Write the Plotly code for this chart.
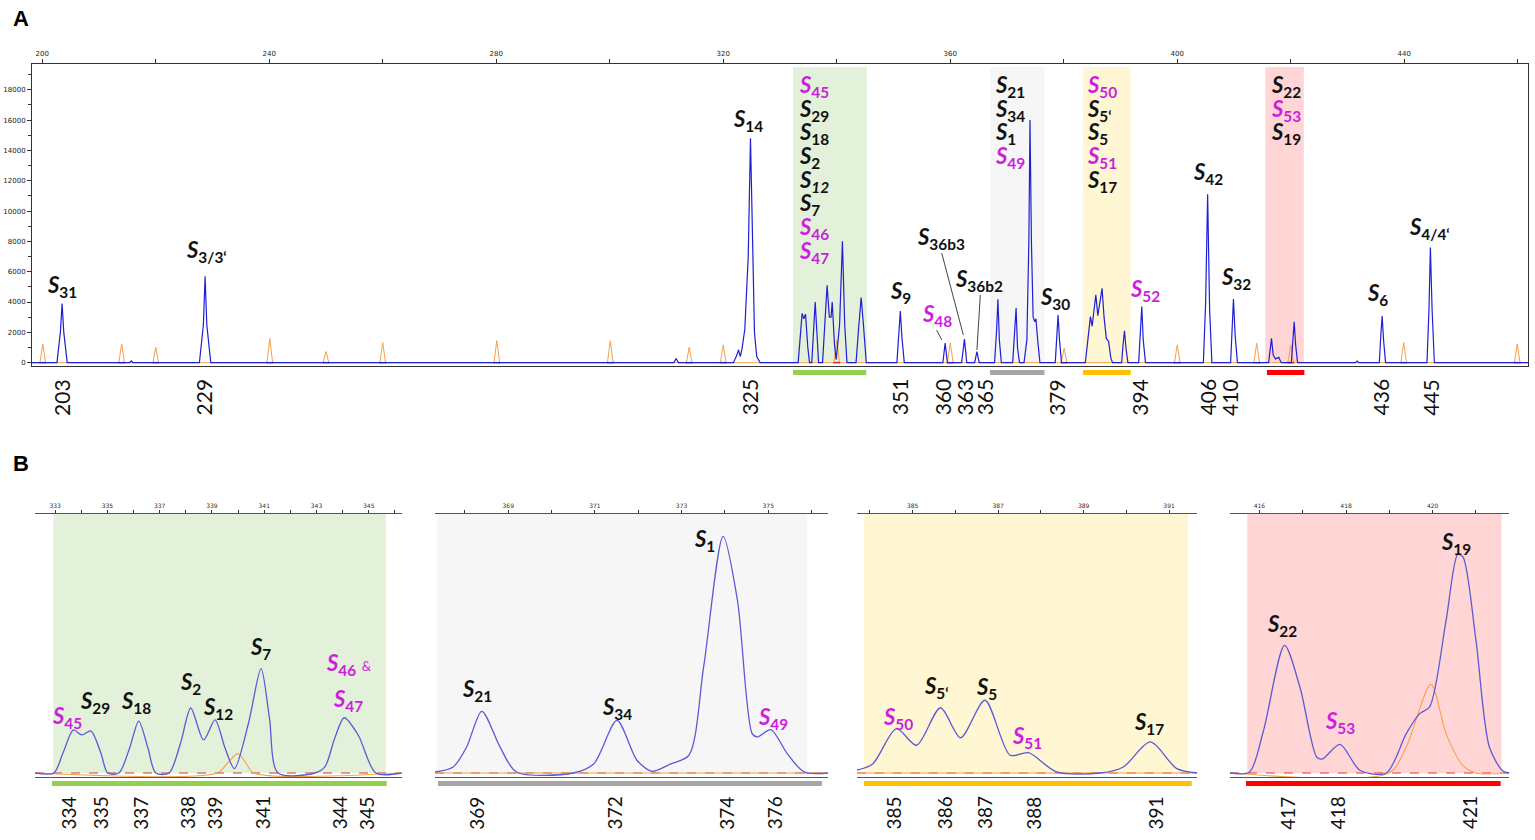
import plotly.graph_objects as go

W, H = 1535, 840

# ================= DATA =================
# ---- Panel A (full electropherogram) ----
a_x_ticks = [200, 240, 280, 320, 360, 400, 440]
a_x_minor = [220, 260, 300, 340, 380, 420, 460]
a_y_ticks = list(range(0, 18001, 2000))
a_y_minor = list(range(1000, 19001, 2000))

# blue (FAM) trace vertices: size (bp), intensity (RFU)
a_blue_x = [198.2,
            202.6, 203.2, 203.5, 203.8, 204.4,
            215.4, 215.7, 216.0,
            227.7, 228.4, 228.7, 229.0, 229.7,
            311.3, 311.7, 312.1,
            321.8, 322.4, 322.7, 323.0, 323.3, 323.8, 324.4, 324.8, 325.1, 325.5, 325.9, 326.5,
            333.2, 333.6, 333.9, 334.2, 334.5, 334.9, 335.2,
            335.6, 336.0, 336.2, 336.5, 336.8,
            337.5, 338.0, 338.3, 338.7, 339.0, 339.2, 339.6, 339.9,
            340.5, 341.0, 341.4, 341.8,
            343.4, 343.9, 344.3, 344.7, 345.2,
            350.6, 351.0, 351.2, 351.5, 351.9,
            358.7, 359.1, 359.5,
            362.0, 362.5, 362.9,
            364.3, 364.7, 365.1,
            367.8, 368.15, 368.4, 368.65, 369.0,
            371.0, 371.35, 371.6, 371.85, 372.2,
            373.0, 373.5, 373.85, 374.05, 374.3, 374.6, 374.9, 375.1, 375.4, 375.8,
            378.5, 378.8, 379.0, 379.25, 379.6,
            383.8, 384.3, 384.7, 385.0, 385.3, 385.65, 386.0, 386.4, 386.75, 387.1, 387.5, 387.9, 388.3, 388.6,
            390.2, 390.45, 390.7, 390.95, 391.3,
            393.2, 393.5, 393.75, 394.0, 394.4,
            404.6, 405.0, 405.35, 405.7, 406.1,
            409.4, 409.7, 409.9, 410.2, 410.6,
            416.1, 416.4, 416.6, 416.9, 417.3, 417.9, 418.3,
            420.1, 420.4, 420.6, 420.85, 421.2,
            431.4, 431.7, 432.0,
            435.6, 435.9, 436.1, 436.35, 436.7,
            444.0, 444.35, 444.6, 444.9, 445.3,
            461.8]
a_blue_y = [0,
            0, 2000, 3900, 2000, 0,
            0, 120, 0,
            0, 2500, 5700, 2500, 0,
            0, 280, 0,
            0, 500, 850, 400, 900, 2200, 7000, 14800, 9000, 2000, 400, 0,
            0, 1800, 3250, 2900, 3200, 1000, 0,
            0, 2500, 4000, 2000, 0,
            0, 3200, 5100, 3000, 3000, 4000, 1200, 200,
            2500, 8000, 2500, 0,
            0, 2500, 4300, 2500, 0,
            0, 2000, 3400, 1600, 0,
            0, 1300, 0,
            0, 1550, 0,
            0, 730, 0,
            0, 2000, 4180, 1500, 0,
            0, 1800, 3600, 1000, 0,
            0, 1500, 8000, 16000, 8000, 3000, 2700, 2900, 1500, 0,
            0, 2000, 3150, 1500, 0,
            0, 1500, 3040, 2400, 3400, 4470, 3100, 4000, 4900, 3000, 1600, 1400, 300, 0,
            0, 1200, 2100, 1000, 0,
            0, 2300, 3700, 1500, 0,
            0, 4000, 11100, 3500, 0,
            0, 2500, 4200, 1800, 0,
            0, 900, 1600, 500, 250, 350, 0,
            0, 1500, 2700, 1200, 0,
            0, 100, 0,
            0, 2000, 3080, 1500, 0,
            0, 3500, 7600, 3500, 0,
            0]

# orange size-standard peaks
a_ladder_pos = [200.1, 214.0, 220.0, 240.1, 250.0, 260.0, 280.1, 300.1, 314.0, 320.0,
                340.0, 360.0, 380.06, 400.0, 414.0, 420.0, 439.9, 459.9]
a_ladder_h = [1230, 1230, 1010, 1600, 730, 1320, 1450, 1450, 1010, 1170,
              1500, 1300, 950, 1170, 1280, 1170, 1320, 1230]

# highlighted windows (bp)
a_regions = [(332.3, 345.3), (367.0, 376.6), (383.4, 391.8), (415.5, 422.3)]
a_bars = [(332.3, 345.2), (367.0, 376.6), (383.4, 391.8), (415.8, 422.4)]
region_fill = ["#e3f1db", "#f6f6f6", "#fff6d3", "#ffd5d5"]
region_bar = ["#92d050", "#a6a6a6", "#ffc000", "#ff0000"]

# size labels under panel A
a_size_labels = ["203", "229", "325", "351", "360", "363", "365", "379", "394", "406", "410", "436", "445"]
a_size_pos = [203.3, 228.4, 324.6, 351.0, 358.6, 362.5, 366.0, 378.6, 393.2, 405.3, 409.1, 435.8, 444.5]

# peak names in panel A: (subscript, x, y, magenta?, anchor)
a_labels = [
    ("31", 203.5, 5060, False, "center"),
    ("3/3‘", 229.0, 7370, False, "center"),
    ("14", 324.4, 16020, False, "center"),
    ("9", 351.2, 4670, False, "center"),
    ("48", 357.6, 3150, True, "center"),
    ("36b3", 358.4, 8230, False, "center"),
    ("36b2", 365.1, 5460, False, "center"),
    ("30", 378.4, 4270, False, "center"),
    ("52", 394.3, 4800, True, "center"),
    ("42", 405.4, 12520, False, "center"),
    ("32", 410.3, 5590, False, "center"),
    ("6", 435.3, 4530, False, "center"),
    ("4/4‘", 444.5, 8890, False, "center"),
]
a_stacks = [
    (333.0, [("45", True), ("29", False), ("18", False), ("2", False), ("<i>12</i>", False),
             ("7", False), ("46", True), ("47", True)]),
    (367.5, [("21", False), ("34", False), ("1", False), ("49", True)]),
    (383.7, [("50", True), ("5‘", False), ("5", False), ("51", True), ("17", False)]),
    (416.1, [("22", False), ("53", True), ("19", False)]),
]
a_stack_y = [18260, 16680, 15160, 13570, 11990, 10470, 8890, 7310]
a_callouts = [((357.6, 2150), (358.5, 1500)),
              ((358.5, 7220), (362.3, 1830)),
              ((365.3, 4470), (364.7, 840))]

# ---- Panel B (zoomed windows) ----
b1_x = [332.23, 332.95, 333.3, 333.70, 334.02, 334.37, 334.75, 335.01, 335.44, 335.85, 336.20, 336.55,
        336.85, 337.36, 337.8, 338.19, 338.68, 339.12, 339.5, 339.86, 340.4, 340.88, 341.2, 341.53,
        342.94, 343.32, 343.7, 344.06, 344.6, 345.27, 346.26]
b1_y = [0, 0, 1520, 3270, 2890, 3190, 1520, 0, 0, 1900, 3950, 1900,
        0, 0, 2280, 4940, 2510, 4030, 1900, 330, 3800, 7930, 4180, 0,
        0, 460, 2660, 4200, 2870, 0, 0]
b1_orange_x = [332.23, 339.2, 339.6, 339.99, 340.3, 340.6, 346.26]
b1_orange_y = [0, 0, 760, 1470, 760, 0, 0]

b2_x = [367.31, 367.73, 368.04, 368.39, 368.81, 369.19, 370.5, 370.97, 371.51, 371.97, 372.32,
        372.74, 373.17, 373.51, 373.96, 374.29, 374.63, 374.75, 375.06, 375.44, 375.83, 376.38]
b2_y = [80, 460, 1980, 4690, 1980, 80, 0, 680, 4000, 970, 130,
        680, 1350, 8060, 17990, 13130, 2990, 2740, 3290, 1470, 80, 0]

b3_x = [383.69, 384.07, 384.62, 385.09, 385.65, 386.12, 386.69, 387.28, 387.71, 388.37,
        389.39, 389.93, 390.56, 391.18, 391.66]
b3_y = [210, 710, 3370, 2110, 4960, 2680, 5530, 1350, 1540, 80,
        0, 460, 2360, 330, 0]

b4_x = [415.32, 415.77, 416.09, 416.58, 416.94, 417.32, 417.45, 417.86, 418.32, 418.93,
        419.39, 419.70, 419.93, 420.31, 420.58, 420.7, 421.0, 421.31, 421.62, 421.77]
b4_y = [0, 80, 3170, 9700, 6460, 1220, 1060, 2180, 210, 0,
        2990, 4510, 5020, 11600, 16620, 16420, 10080, 1980, 150, 0]
b4_orange_x = [415.32, 418.99, 419.39, 419.96, 420.31, 420.69, 420.99, 421.77]
b4_orange_y = [0, 0, 1980, 6740, 2990, 590, 0, 0]

b_ranges = [(332.23, 346.26), (367.31, 376.38), (383.69, 391.66), (415.32, 421.77)]
b_ticks = [[333, 335, 337, 339, 341, 343, 345], [369, 371, 373, 375], [385, 387, 389, 391], [416, 418, 420]]
b_minor = [[334, 336, 338, 340, 342, 344, 346], [368, 370, 372, 374, 376], [384, 386, 388, 390], [417, 419, 421]]
b_regions = [(332.93, 345.65), (367.35, 375.9), (383.86, 391.45), (415.72, 421.59)]
b_bars = [(332.88, 345.69), (367.38, 376.24), (383.86, 391.53), (415.69, 421.57)]

b_size_labels = [["334", "335", "337", "338", "339", "341", "344", "345"],
                 ["369", "372", "374", "376"],
                 ["385", "386", "387", "388", "391"],
                 ["417", "418", "421"]]
b_size_pos = [[333.51, 334.73, 336.24, 338.05, 339.06, 340.92, 343.87, 344.89],
              [368.25, 371.45, 374.02, 375.14],
              [384.53, 385.74, 386.67, 387.81, 390.66],
              [416.63, 417.80, 420.84]]

b_labels = [
    [("45", 333.45, 4280, True), ("29", 334.54, 5420, False), ("18", 336.08, 5420, False),
     ("2", 338.19, 6840, False), ("12", 339.22, 4940, False), ("7", 340.86, 9520, False),
     ("47", 344.22, 5550, True)],
    [("21", 368.27, 6310, False), ("34", 371.50, 4920, False), ("1", 373.54, 17700, False),
     ("49", 375.12, 4180, True)],
    [("50", 384.66, 4160, True), ("5‘", 385.56, 6560, False), ("5", 386.73, 6440, False),
     ("51", 387.67, 2760, True), ("17", 390.52, 3780, False)],
    [("22", 416.52, 11250, False), ("53", 417.86, 3900, True), ("19", 420.55, 17460, False)],
]

# ================= STYLE =================
BLUE_A = "#1f1fd6"
BLUE_B = "#5a5ad6"
ORANGE = "#f4a24c"
MAGENTA = "#cc1fdd"
BLACK = "#111111"
LABEL_FONT = "Lato"
TICK_FONT = dict(family="DejaVu Sans", size=7, color="#222")

def px_x(p):
    return p / W

def px_y(p):
    return 1 - p / H

fig = go.Figure()

# ---- Panel A traces ----
orange_x, orange_y = [198.2], [0]
red_x, red_y = [], []
for p, h in zip(a_ladder_pos, a_ladder_h):
    orange_x += [p - 0.5, p, p + 0.5]
    orange_y += [0, h, 0]
    red_x += [p - 0.6, p + 0.6, None]
    red_y += [0, 0, None]
orange_x.append(461.8)
orange_y.append(0)

fig.add_trace(go.Scatter(x=orange_x, y=orange_y, mode="lines", line=dict(color=ORANGE, width=1),
                         xaxis="x", yaxis="y", hoverinfo="skip"))
fig.add_trace(go.Scatter(x=red_x, y=red_y, mode="lines", line=dict(color="#e02020", width=1.5),
                         xaxis="x", yaxis="y", hoverinfo="skip"))
fig.add_trace(go.Scatter(x=a_blue_x, y=a_blue_y, mode="lines", line=dict(color=BLUE_A, width=1.2),
                         xaxis="x", yaxis="y", hoverinfo="skip"))

# ---- Panel B traces ----
b_blue = [(b1_x, b1_y), (b2_x, b2_y), (b3_x, b3_y), (b4_x, b4_y)]
b_orange = [(b1_orange_x, b1_orange_y), (list(b_ranges[1]), [0, 0]),
            (list(b_ranges[2]), [0, 0]), (b4_orange_x, b4_orange_y)]
for i in range(4):
    xa, ya = "x%d" % (i + 2), "y%d" % (i + 2)
    lo, hi = b_ranges[i]
    fig.add_trace(go.Scatter(x=[lo, hi], y=[0, 0], mode="lines",
                             line=dict(color="#e03a2a", width=1.2, dash="dash"),
                             xaxis=xa, yaxis=ya, hoverinfo="skip"))
    ox, oy = b_orange[i]
    fig.add_trace(go.Scatter(x=ox, y=oy, mode="lines", line=dict(color=ORANGE, width=1.1, shape="spline", smoothing=0.8),
                             xaxis=xa, yaxis=ya, hoverinfo="skip"))
    bx, by = b_blue[i]
    fig.add_trace(go.Scatter(x=bx, y=by, mode="lines", line=dict(color=BLUE_B, width=1.3, shape="spline", smoothing=0.8),
                             xaxis=xa, yaxis=ya, hoverinfo="skip"))

# ---- Axes ----
axis_common = dict(showgrid=False, zeroline=False, showline=True, linecolor="#333", linewidth=1,
                   mirror=True, ticks="outside", ticklen=4, tickcolor="#333", tickfont=TICK_FONT,
                   automargin=False)

layout = dict(
    width=W, height=H, margin=dict(l=0, r=0, t=0, b=0, autoexpand=False),
    paper_bgcolor="white", plot_bgcolor="rgba(0,0,0,0)", showlegend=False,
    font=dict(family=LABEL_FONT),
    xaxis=dict(domain=[px_x(32), px_x(1528)], range=[198.2, 461.8], side="top", anchor="y",
               tickmode="array", tickvals=a_x_ticks,
               minor=dict(tickvals=a_x_minor, ticks="outside", ticklen=4, tickcolor="#333"),
               **axis_common),
    yaxis=dict(domain=[px_y(366), px_y(64)], range=[-220, 19700], anchor="x",
               tickmode="array", tickvals=a_y_ticks, ticktext=[str(v) for v in a_y_ticks],
               minor=dict(tickvals=a_y_minor, ticks="outside", ticklen=3, tickcolor="#333"),
               **axis_common),
)
b_dom = [(35, 401.7), (435, 828), (856.7, 1197.3), (1230, 1509.3)]
for i in range(4):
    n = i + 2
    layout["xaxis%d" % n] = dict(domain=[px_x(b_dom[i][0]), px_x(b_dom[i][1])], range=list(b_ranges[i]),
                                 side="top", anchor="y%d" % n, tickmode="array", tickvals=b_ticks[i],
                                 minor=dict(tickvals=b_minor[i], ticks="outside", ticklen=3, tickcolor="#333"),
                                 showgrid=False, zeroline=False, showline=True, linecolor="#555",
                                 linewidth=1, mirror=True, ticks="outside", ticklen=3, tickcolor="#333",
                                 tickfont=dict(family="DejaVu Sans", size=6, color="#333"),
                                 automargin=False)
    layout["yaxis%d" % n] = dict(domain=[px_y(777), px_y(514)], range=[-304, 19684], anchor="x%d" % n,
                                 visible=False, showgrid=False, zeroline=False, automargin=False)
fig.update_layout(**layout)

# ---- Shapes ----
shapes = []
for (x0, x1), c in zip(a_regions, region_fill):
    shapes.append(dict(type="rect", xref="x", yref="y", x0=x0, x1=x1, y0=0, y1=19500,
                       fillcolor=c, line=dict(width=0), layer="below"))
for (x0, x1), c in zip(a_bars, region_bar):
    shapes.append(dict(type="rect", xref="x", yref="paper", x0=x0, x1=x1, y0=px_y(375), y1=px_y(370),
                       fillcolor=c, line=dict(width=0)))
for (p0, p1) in a_callouts:
    shapes.append(dict(type="line", xref="x", yref="y", x0=p0[0], y0=p0[1], x1=p1[0], y1=p1[1],
                       line=dict(color="#444", width=1)))
for i in range(4):
    n = i + 2
    x0, x1 = b_regions[i]
    shapes.append(dict(type="rect", xref="x%d" % n, yref="y%d" % n, x0=x0, x1=x1, y0=0, y1=19684,
                       fillcolor=region_fill[i], line=dict(width=0), layer="below"))
    x0, x1 = b_bars[i]
    shapes.append(dict(type="rect", xref="x%d" % n, yref="paper", x0=x0, x1=x1, y0=px_y(786), y1=px_y(781),
                       fillcolor=region_bar[i], line=dict(width=0)))

# ---- Annotations ----
ann = []

def s_label(sub):
    return "<b><i>S</i><sub>%s</sub></b>" % sub

for sub, x, y, mag, anc in a_labels:
    ann.append(dict(xref="x", yref="y", x=x, y=y, text=s_label(sub), showarrow=False,
                    xanchor=anc, yanchor="middle",
                    font=dict(family=LABEL_FONT, size=22, color=MAGENTA if mag else BLACK)))
for x, items in a_stacks:
    for (sub, mag), y in zip(items, a_stack_y):
        ann.append(dict(xref="x", yref="y", x=x, y=y, text=s_label(sub), showarrow=False,
                        xanchor="left", yanchor="middle",
                        font=dict(family=LABEL_FONT, size=22, color=MAGENTA if mag else BLACK)))
for t, x in zip(a_size_labels, a_size_pos):
    ann.append(dict(xref="x", yref="paper", x=x, y=px_y(397), text=t, showarrow=False, textangle=-90,
                    xanchor="center", yanchor="middle", font=dict(family=LABEL_FONT, size=21, color=BLACK)))

for i in range(4):
    n = i + 2
    for sub, x, y, mag in b_labels[i]:
        ann.append(dict(xref="x%d" % n, yref="y%d" % n, x=x, y=y, text=s_label(sub), showarrow=False,
                        xanchor="center", yanchor="middle",
                        font=dict(family=LABEL_FONT, size=22, color=MAGENTA if mag else BLACK)))
    for t, x in zip(b_size_labels[i], b_size_pos[i]):
        ann.append(dict(xref="x%d" % n, yref="paper", x=x, y=px_y(813), text=t, showarrow=False,
                        textangle=-90, xanchor="center", yanchor="middle",
                        font=dict(family=LABEL_FONT, size=19, color=BLACK)))
# "S46 &" label in B1
ann.append(dict(xref="x2", yref="y2", x=344.25, y=8250,
                text="<b><i>S</i><sub>46</sub></b> <span style='font-size:13px'>&amp;</span>",
                showarrow=False, xanchor="center", yanchor="middle",
                font=dict(family=LABEL_FONT, size=22, color=MAGENTA)))

# panel letters
ann.append(dict(xref="paper", yref="paper", x=px_x(11), y=px_y(18), text="<b>A</b>", showarrow=False,
                xanchor="left", yanchor="middle", font=dict(family="Liberation Sans", size=22, color="black")))
ann.append(dict(xref="paper", yref="paper", x=px_x(11), y=px_y(463), text="<b>B</b>", showarrow=False,
                xanchor="left", yanchor="middle", font=dict(family="Liberation Sans", size=22, color="black")))

fig.update_layout(shapes=shapes, annotations=ann)
fig.write_html("out.html",
               config={"displayModeBar": False},
               post_script="document.body.style.margin='0';document.body.style.padding='0';"
                           "document.body.style.overflow='hidden';")
